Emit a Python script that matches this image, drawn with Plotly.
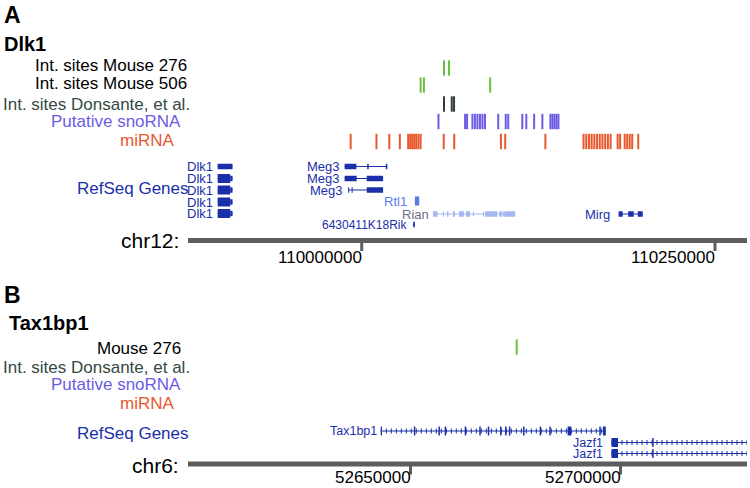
import plotly.graph_objects as go

# ---------------- data: panel A (Dlk1, chr12) ----------------
A_TICKS = [110000000, 110250000]
A_TICK_LABELS = ["110000000", "110250000"]
A_RANGE = [109877090, 110272640]
A_MOUSE276 = [110058240, 110061790]
A_MOUSE506 = [110041690, 110044030, 110090910]
A_DONSANTE = [110058240, 110063710, 110065340]
A_SNORNA = [110054330, 110073150, 110074570, 110078340, 110080110, 110081890,
            110083670, 110085440, 110087220, 110096590, 110101920, 110103690,
            110113640, 110116480, 110122020, 110127840, 110133520, 110134940,
            110136360, 110137780, 110139210]
A_MIRNA = [109992190, 110010440, 110019530, 110026990, 110032880, 110034300,
           110035720, 110037150, 110038570, 110040130, 110041690, 110058030,
           110065480, 110098510, 110101560, 110129970, 110156960, 110158880,
           110160800, 110162710, 110164630, 110166550, 110168470, 110170380,
           110172300, 110174220, 110176140, 110181110, 110182880, 110186080,
           110187860, 110189630, 110191410, 110195670]

A_GENE_NAMES = ["Dlk1", "Dlk1", "Dlk1", "Dlk1", "Dlk1", "Meg3", "Meg3", "Meg3",
                "Rtl1", "Rian", "6430411K18Rik", "Mirg"]
A_GENE_START = [109898080, 109898080, 109898080, 109898080, 109898080,
                109987930, 109987930, 109990410, 110037640, 110050430,
                110036430, 110181820]
A_GENE_END = [109908590, 109908590, 109908590, 109908590, 109908590,
              110018110, 110015130, 110015130, 110040700, 110108670,
              110037640, 110198860]
# exons: (start, end, kind)  kind: "T" = coding (thick), "U" = utr / non-coding (thin)
DLK1_EX_A = [(109898080, 109908590, "U")]
DLK1_EX_B = [(109898080, 109906960, "T"), (109906960, 109908590, "U")]
A_GENE_EXONS = [
    DLK1_EX_A, DLK1_EX_B, DLK1_EX_B, DLK1_EX_B, DLK1_EX_B,
    [(109987930, 109996240, "U"), (110003910, 110004970, "U"), (110017050, 110018110, "U")],
    [(109987930, 109996450, "U"), (110003550, 110015130, "U")],
    [(109990410, 109991120, "U"), (109992900, 109993610, "U"), (110003550, 110015130, "U")],
    [(110037640, 110040700, "T")],
    [(110050430, 110053620, "U"), (110060370, 110061440, "U"), (110064630, 110066050, "U"),
     (110068890, 110071730, "U"), (110073860, 110076700, "U"), (110087360, 110095880, "U"),
     (110097300, 110099430, "U"), (110100850, 110108670, "U")],
    [(110036430, 110037640, "U")],
    [(110181820, 110184660, "U"), (110188570, 110192470, "U"), (110195310, 110198860, "U")],
]

# ---------------- data: panel B (Tax1bp1, chr6) ----------------
B_TICKS = [52650000, 52700000]
B_TICK_LABELS = ["52650000", "52700000"]
B_RANGE = [52597020, 52730120]
B_MOUSE276 = [52675290]
B_GENE_NAMES = ["Tax1bp1", "Jazf1", "Jazf1"]
B_GENE_START = [52642930, 52697860, 52697860]
B_GENE_END = [52696500, 52732000, 52732000]
B_GENE_EXONS = [
    [(52642930, 52643200, "T"), (52650800, 52651150, "T"), (52656650, 52657000, "T"),
     (52658130, 52658480, "T"), (52662900, 52663250, "T"), (52666370, 52666720, "T"),
     (52668400, 52668750, "T"), (52671330, 52671680, "T"), (52672520, 52672870, "T"),
     (52673420, 52673770, "T"), (52676800, 52677150, "T"), (52680750, 52681100, "T"),
     (52683050, 52683400, "T"), (52687400, 52688300, "T"), (52694950, 52695300, "T"),
     (52695800, 52696500, "T")],
    [(52697860, 52699410, "T"), (52707550, 52707900, "T")],
    [(52697860, 52699410, "T"), (52707550, 52707900, "T")],
]

# ---------------- styles / layout positions (pixels) ----------------
W, H = 750, 488
FONT = "Liberation Sans, Arial, Helvetica, sans-serif"
GREEN = "#6cbf3c"
DARKMARK = "#2f3d38"
SNO = "#6b5ce6"
MIR = "#e8582d"
GENE_DARK = "#1b2fa8"
GENE_MED = "#5a7be4"
GENE_LIGHT = "#a5b7f0"
RULER = "#5d5d5d"
DONS_TXT = "#34493f"
THICK_H, THIN_H = 9, 5.5

A_GENE_ROW_Y = [166.5, 178.5, 190, 202, 213.5, 166.5, 178.5, 190, 201, 214, 224.5, 214]
A_GENE_COLOR = [GENE_DARK] * 8 + [GENE_MED, GENE_LIGHT, GENE_DARK, GENE_DARK]
A_LABEL_COLOR = [GENE_DARK] * 8 + [GENE_MED, "#6b7086", GENE_DARK, GENE_DARK]
A_LABEL_SHIFT = [-3, -3, -3, -3, -3, -3, -3, -3, -6, -2, -3, -7]
A_ARROWS = [None] * 9 + ["1px,9px", None, None]

B_GENE_ROW_Y = [431, 442.5, 453.5]
B_LABEL_SHIFT = [-2, -7, -7]
B_ARROWS = ["1px,4px", "1px,4px", "1px,4px"]

fig = go.Figure()
annotations = []
shapes = []


def txt(text, xr, y, size=17, color="black", bold=False, xanchor="right"):
    annotations.append(dict(
        text=f"<b>{text}</b>" if bold else text, x=xr / W, y=1 - y / H,
        xref="paper", yref="paper", xanchor=xanchor, yanchor="middle",
        showarrow=False, font=dict(family=FONT, size=size, color=color)))


def marks(xs, yrow, color, xa, ya):
    fig.add_trace(go.Scatter(
        x=xs, y=[yrow] * len(xs), mode="markers", xaxis=xa, yaxis=ya,
        marker=dict(symbol="line-ns", size=11, color=color,
                    line=dict(width=2, color=color)),
        hoverinfo="skip", showlegend=False))


def gene(xa, ya, start, end, exons, yrow, color, arrows):
    fig.add_trace(go.Scatter(
        x=[start, end], y=[yrow, yrow], mode="lines", xaxis=xa, yaxis=ya,
        line=dict(color=color, width=1), hoverinfo="skip", showlegend=False))
    if arrows:
        fig.add_trace(go.Scatter(
            x=[start, end], y=[yrow, yrow], mode="lines", xaxis=xa, yaxis=ya,
            line=dict(color=color, width=5, dash=arrows),
            hoverinfo="skip", showlegend=False))
    for s, e, kind in exons:
        h = THICK_H if kind == "T" else THIN_H
        shapes.append(dict(type="rect", xref=xa, yref=ya, x0=s, x1=e,
                           y0=yrow - h / 2, y1=yrow + h / 2,
                           fillcolor=color, line=dict(width=0)))


def ruler(xa, ya, yline, ticks, labels, label_dy):
    shapes.append(dict(type="line", xref=f"{xa} domain", yref=ya, x0=0, x1=1,
                       y0=yline, y1=yline, line=dict(color=RULER, width=5)))
    for t, lab in zip(ticks, labels):
        shapes.append(dict(type="line", xref=xa, yref=ya, x0=t, x1=t,
                           y0=yline, y1=yline + 10.5, line=dict(color=RULER, width=3)))
        annotations.append(dict(text=lab, x=t, y=yline + label_dy, xref=xa, yref=ya,
                                xanchor="right", yanchor="middle", xshift=2,
                                showarrow=False,
                                font=dict(family=FONT, size=17, color="black")))


# ---------------- panel A ----------------
txt("A", 2, 15, size=23, bold=True, xanchor="left")
txt("Dlk1", 2, 44, size=20, bold=True, xanchor="left")
txt("Int. sites Mouse 276", 189, 65)
txt("Int. sites Mouse 506", 189, 84)
txt("Int. sites Donsante, et al.", 192, 104, color=DONS_TXT)
txt("Putative snoRNA", 183, 121, color=SNO)
txt("miRNA", 176, 141, color=MIR)
txt("RefSeq Genes", 191, 188, color=GENE_DARK)
txt("chr12:", 181, 240, size=21)

marks(A_MOUSE276, 68, GREEN, "x", "y")
marks(A_MOUSE506, 85, GREEN, "x", "y")
marks(A_DONSANTE, 104, DARKMARK, "x", "y")
marks(A_SNORNA, 121.5, SNO, "x", "y")
marks(A_MIRNA, 141.5, MIR, "x", "y")

for i, name in enumerate(A_GENE_NAMES):
    gene("x", "y", A_GENE_START[i], A_GENE_END[i], A_GENE_EXONS[i],
         A_GENE_ROW_Y[i], A_GENE_COLOR[i], A_ARROWS[i])
    annotations.append(dict(text=name, x=A_GENE_START[i], y=A_GENE_ROW_Y[i],
                            xref="x", yref="y", xanchor="right", yanchor="middle",
                            xshift=A_LABEL_SHIFT[i], showarrow=False,
                            font=dict(family=FONT, size=13 if len(name) < 8 else 12,
                                      color=A_LABEL_COLOR[i])))

ruler("x", "y", 240.5, A_TICKS, A_TICK_LABELS, 16.5)

# ---------------- panel B ----------------
txt("B", 2, 295, size=23, bold=True, xanchor="left")
txt("Tax1bp1", 7, 323, size=20, bold=True, xanchor="left")
txt("Mouse 276", 183, 348)
txt("Int. sites Donsante, et al.", 192, 367, color=DONS_TXT)
txt("Putative snoRNA", 183, 384, color=SNO)
txt("miRNA", 176, 403, color=MIR)
txt("RefSeq Genes", 191, 433, color=GENE_DARK)
txt("chr6:", 181, 465, size=21)

marks(B_MOUSE276, 347, GREEN, "x2", "y2")

for i, name in enumerate(B_GENE_NAMES):
    gene("x2", "y2", B_GENE_START[i], B_GENE_END[i], B_GENE_EXONS[i],
         B_GENE_ROW_Y[i], GENE_DARK, B_ARROWS[i])
    annotations.append(dict(text=name, x=B_GENE_START[i], y=B_GENE_ROW_Y[i],
                            xref="x2", yref="y2", xanchor="right", yanchor="middle",
                            xshift=B_LABEL_SHIFT[i], showarrow=False,
                            font=dict(family=FONT, size=12.5, color=GENE_DARK)))

ruler("x2", "y2", 464, B_TICKS, B_TICK_LABELS, 13.5)

dom = [188 / W, 747 / W]
fig.update_layout(
    width=W, height=H, margin=dict(l=0, r=0, t=0, b=0),
    paper_bgcolor="white", plot_bgcolor="rgba(0,0,0,0)", showlegend=False,
    xaxis=dict(domain=dom, range=A_RANGE, visible=False, anchor="y"),
    yaxis=dict(domain=[0, 1], range=[H, 0], visible=False, anchor="x"),
    xaxis2=dict(domain=dom, range=B_RANGE, visible=False, anchor="y2"),
    yaxis2=dict(domain=[0, 1], range=[H, 0], visible=False, anchor="x2"),
    annotations=annotations, shapes=shapes,
)

fig.write_html(
    "out.html",
    config={"displayModeBar": False},
    post_script="document.body.style.margin='0';document.body.style.padding='0';",
)
